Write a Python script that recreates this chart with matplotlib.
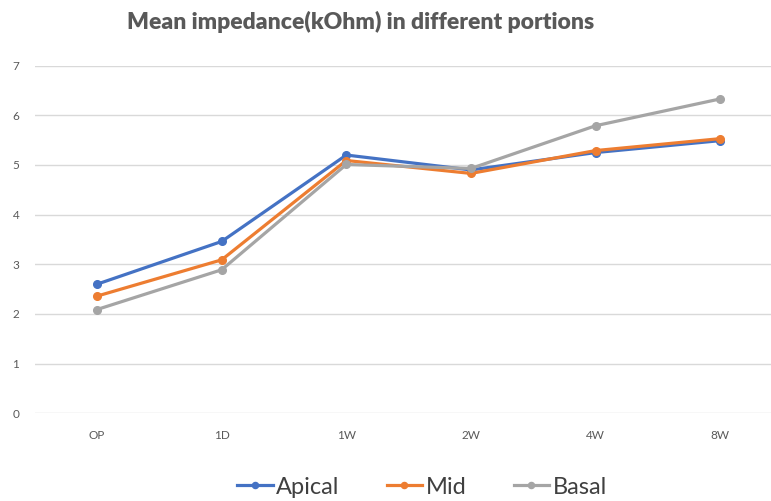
import matplotlib
matplotlib.use("Agg")
import matplotlib.pyplot as plt

plt.rcParams.update({"font.family": ["Lato", "DejaVu Sans"]})

categories = ["OP", "1D", "1W", "2W", "4W", "8W"]
apical = [2.60, 3.46, 5.20, 4.90, 5.25, 5.49]
mid = [2.36, 3.09, 5.09, 4.83, 5.29, 5.53]
basal = [2.09, 2.89, 5.01, 4.93, 5.79, 6.33]

series = [("Apical", apical, "#4472C4"),
          ("Mid", mid, "#ED7D31"),
          ("Basal", basal, "#A5A5A5")]

fig = plt.figure(figsize=(7.71, 5.01), dpi=100)
ax = fig.add_axes([0.045, 0.175, 0.970, 0.694])

x = range(len(categories))
for name, vals, color in series:
    ax.plot(x, vals, color=color, linewidth=2.3, marker="o", markersize=5.5, label=name)

ax.set_xlim(-0.5, len(categories) - 0.5)
ax.set_ylim(0, 7)
ax.set_yticks(range(0, 8))
ax.set_xticks(list(x))
ax.set_xticklabels(categories)
ax.grid(axis="y", color="#d9d9d9", linewidth=1)
ax.set_axisbelow(True)
for s in ax.spines.values():
    s.set_visible(False)
ax.tick_params(axis="both", length=0, colors="#595959", labelsize=8.5)
ax.tick_params(axis="y", pad=11)
ax.tick_params(axis="x", pad=12)

fig.text(361 / 771, 1 - 22 / 501, "Mean impedance(kOhm) in different portions",
         ha="center", va="center", fontsize=16.5, fontweight="heavy", color="#595959")

fig.legend(loc="center", bbox_to_anchor=(422 / 771, 1 - 487 / 501), ncol=3,
           frameon=False, fontsize=17, labelcolor="#404040", handlelength=1.5,
           handletextpad=0.15, columnspacing=2.0, markerscale=0.8)

fig.savefig("out.png", dpi=100)
